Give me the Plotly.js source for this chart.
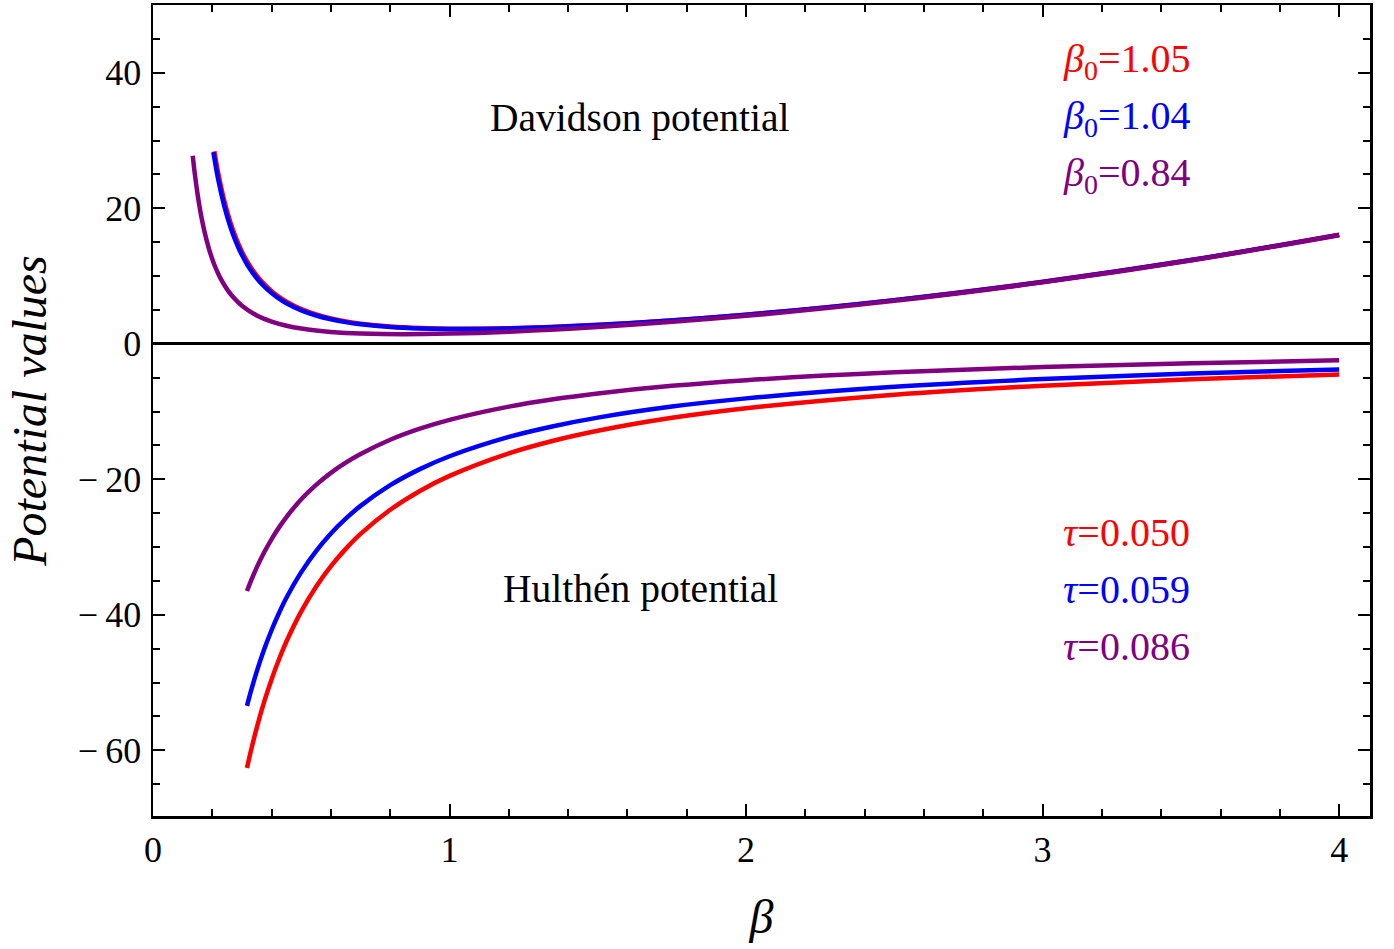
<!DOCTYPE html>
<html>
<head>
<meta charset="utf-8">
<script src="https://cdn.plot.ly/plotly-3.0.1.min.js"></script>
<style>html,body{margin:0;padding:0;background:#fff;}#chart{width:1394px;height:949px;}</style>
</head>
<body>
<div id="chart"></div>
<script>
// Davidson potential curves
const davRedX   = [0.207,0.22,0.24,0.26,0.28,0.3,0.32,0.35,0.37,0.4,0.42,0.45,0.5,0.55,0.6,0.65,0.7,0.8,0.9,1.0,1.2,1.5,2.0,2.5,3.0,3.5,4.0];
const davRedY   = [28.41,25.16,21.16,18.05,15.58,13.60,11.97,10.04,9.02,7.76,7.07,6.20,5.11,4.32,3.74,3.30,2.97,2.54,2.31,2.22,2.28,2.79,4.30,6.44,9.14,12.35,16.08];
const davBlueX  = [0.2035,0.22,0.24,0.26,0.28,0.3,0.32,0.35,0.37,0.4,0.42,0.45,0.5,0.55,0.6,0.65,0.7,0.8,0.9,1.0,1.2,1.5,2.0,2.5,3.0,3.5,4.0];
const davBlueY  = [28.29,24.22,20.37,17.38,15.00,13.09,11.52,9.67,8.69,7.47,6.81,5.98,4.93,4.17,3.61,3.19,2.88,2.47,2.25,2.17,2.25,2.77,4.29,6.44,9.13,12.35,16.07];
const davPurpX  = [0.134,0.14,0.15,0.16,0.17,0.18,0.19,0.2,0.21,0.22,0.23,0.25,0.27,0.3,0.35,0.4,0.45,0.5,0.55,0.6,0.65,0.7,0.84,1.0,1.2,1.5,2.0,2.5,3.0,3.5,4.0];
const davPurpY  = [27.75,25.42,22.15,19.48,17.26,15.40,13.83,12.49,11.33,10.34,9.46,8.03,6.90,5.62,4.18,3.27,2.66,2.24,1.95,1.74,1.60,1.51,1.41,1.50,1.79,2.47,4.12,6.33,9.06,12.29,16.03];
// Hulthén potential curves
const hulX      = [0.317,0.33,0.35,0.375,0.4,0.425,0.45,0.5,0.55,0.6,0.65,0.7,0.8,0.9,1.0,1.2,1.35,1.5,1.75,2.0,2.5,3.0,3.5,4.0];
const hulRedY   = [-62.6,-60.11,-56.65,-52.83,-49.5,-46.56,-43.95,-39.5,-35.86,-32.83,-30.27,-28.07,-24.5,-21.72,-19.5,-16.17,-14.31,-12.84,-10.93,-9.51,-7.51,-6.18,-5.23,-4.52];
const hulBlueY  = [-53.44,-51.32,-48.36,-45.10,-42.25,-39.74,-37.49,-33.70,-30.59,-28.0,-25.81,-23.93,-20.87,-18.50,-16.60,-13.75,-12.17,-10.90,-9.27,-8.06,-6.35,-5.21,-4.40,-3.79];
const hulPurpY  = [-36.5,-35.04,-33.01,-30.78,-28.82,-27.10,-25.57,-22.96,-20.83,-19.05,-17.55,-16.26,-14.16,-12.53,-11.23,-9.28,-8.19,-7.33,-6.21,-5.37,-4.20,-3.42,-2.87,-2.45];

const xTickVals = [0,1,2,3,4];
const xTickText = ['0','1','2','3','4'];
const yTickVals = [40,20,0,-20,-40,-60];
const yTickText = ['40','20','0','\u2212\u200920','\u2212\u200940','\u2212\u200960'];

const davLabels = ['<i>β</i><sub>0</sub>=1.05','<i>β</i><sub>0</sub>=1.04','<i>β</i><sub>0</sub>=0.84'];
const hulLabels = ['<i>τ</i>=0.050','<i>τ</i>=0.059','<i>τ</i>=0.086'];
const colors = ['#ff0000','#0000ff','#800080'];

const FONT = 'Liberation Serif';
function tr(x,y,c){return {x:x,y:y,type:'scatter',mode:'lines',line:{color:c,width:4.5,shape:'spline',smoothing:1},hoverinfo:'skip',showlegend:false};}
const data = [
  tr(davRedX,davRedY,colors[0]), tr(davBlueX,davBlueY,colors[1]), tr(davPurpX,davPurpY,colors[2]),
  tr(hulX,hulRedY,colors[0]), tr(hulX,hulBlueY,colors[1]), tr(hulX,hulPurpY,colors[2])
];

const annY1 = [0.931,0.8606,0.790];
const annY2 = [0.349,0.2793,0.2084];
const annotations = [];
for(let i=0;i<3;i++){
  annotations.push({xref:'paper',yref:'paper',x:0.8537,y:annY1[i],xanchor:'right',yanchor:'middle',text:davLabels[i],showarrow:false,font:{family:FONT,size:40,color:colors[i]}});
  annotations.push({xref:'paper',yref:'paper',x:0.8537,y:annY2[i],xanchor:'right',yanchor:'middle',text:hulLabels[i],showarrow:false,font:{family:FONT,size:40,color:colors[i]}});
}
annotations.push({xref:'paper',yref:'paper',x:0.4002,y:0.8606,xanchor:'center',yanchor:'middle',text:'Davidson potential',showarrow:false,font:{family:FONT,size:39.5,color:'#000'}});
annotations.push({xref:'paper',yref:'paper',x:0.4002,y:0.280,xanchor:'center',yanchor:'middle',text:'Hulthén potential',showarrow:false,font:{family:FONT,size:39.5,color:'#000'}});

const layout = {
  width:1394,height:949,
  margin:{l:153,r:24,t:5,b:133},
  paper_bgcolor:'#fff',plot_bgcolor:'#fff',
  font:{family:FONT,color:'#000'},
  xaxis:{range:[0,4.104],showgrid:false,zeroline:false,showline:true,linecolor:'#000',linewidth:2.5,mirror:'allticks',
    ticks:'inside',ticklen:12,tickwidth:2,tickcolor:'#000',tickvals:xTickVals,ticktext:xTickText,
    tickfont:{family:FONT,size:36,color:'#000'},
    minor:{dtick:0.2,tick0:0,ticks:'inside',ticklen:7,tickwidth:2,tickcolor:'#000',showgrid:false},
    title:{text:'<i>β</i>',font:{family:FONT,size:48,color:'#000'},standoff:31}},
  yaxis:{range:[-69.7,50],showgrid:false,zeroline:true,zerolinecolor:'#000',zerolinewidth:3,showline:true,linecolor:'#000',linewidth:2.5,mirror:'allticks',
    ticks:'inside',ticklen:12,tickwidth:2,tickcolor:'#000',tickvals:yTickVals,ticktext:yTickText,
    tickfont:{family:FONT,size:36,color:'#000'},ticklabelstandoff:2,
    minor:{dtick:5,tick0:0,ticks:'inside',ticklen:7,tickwidth:2,tickcolor:'#000',showgrid:false},
    title:{text:'<i>Potential values</i>',font:{family:FONT,size:48,color:'#000'},standoff:16}},
  annotations:annotations
};
Plotly.newPlot('chart',data,layout,{displayModeBar:false,staticPlot:true});
</script>
</body>
</html>
